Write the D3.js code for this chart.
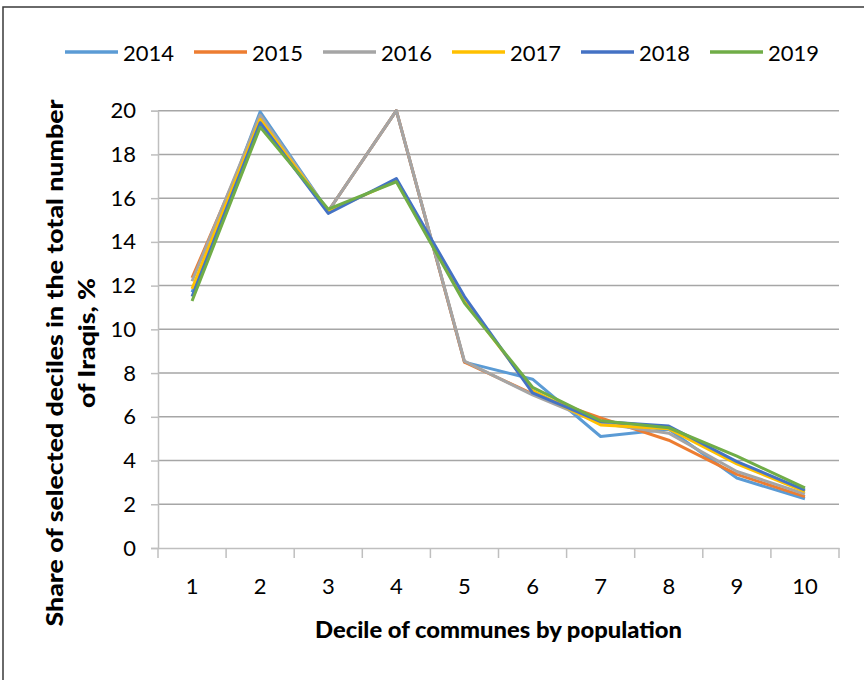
<html lang="en">
<head>
<style>
	body { margin: 0; background: #fff; }
	text { font-family: Lato, "Open Sans", sans-serif; fill: #000; }
	.grid line { stroke: #a6a6a6; stroke-width: 1.5; }
	.series { fill: none; stroke-width: 3; stroke-linejoin: round; }
</style>
</head>
<body>
<svg width="864" height="680"></svg>
<script src="https://d3js.org/d3.v7.min.js"></script>
<script>
	// data
	var deciles = [1, 2, 3, 4, 5, 6, 7, 8, 9, 10];
	var years = ["2014", "2015", "2016", "2017", "2018", "2019"];
	var colors = ["#5b9bd5", "#ed7d31", "#a5a5a5", "#ffc000", "#4472c4", "#70ad47"];
	var s2014 = [11.7, 19.95, 15.4, 20.0, 8.5, 7.72, 5.1, 5.43, 3.2, 2.25];
	var s2015 = [12.35, 19.6, 15.4, 20.0, 8.5, 7.05, 5.95, 4.93, 3.37, 2.35];
	var s2016 = [12.2, 19.8, 15.4, 20.0, 8.55, 7.0, 5.7, 5.25, 3.5, 2.47];
	var s2017 = [11.85, 19.6, 15.4, 16.8, 11.3, 7.2, 5.63, 5.45, 3.85, 2.58];
	var s2018 = [11.5, 19.45, 15.3, 16.9, 11.5, 7.1, 5.78, 5.58, 3.95, 2.65];
	var s2019 = [11.3, 19.25, 15.5, 16.75, 11.2, 7.35, 5.82, 5.5, 4.2, 2.75];
	var series = [s2014, s2015, s2016, s2017, s2018, s2019];
	var yTicks = [0, 2, 4, 6, 8, 10, 12, 14, 16, 18, 20];

	var svg = d3.select("svg");

	// chart frame
	svg.append("rect")
		.attr("x", 3).attr("y", 7)
		.attr("width", 900).attr("height", 700)
		.attr("fill", "none")
		.attr("stroke", "#3a3a3a")
		.attr("stroke-width", 1.5);

	var plotLeft = 158, plotRight = 839, plotTop = 110.7, plotBottom = 548;

	var x = d3.scaleBand().domain(deciles).range([plotLeft, plotRight]).padding(0);
	var y = d3.scaleLinear().domain([0, 20]).range([plotBottom, plotTop]);

	// horizontal gridlines
	svg.append("g")
		.attr("class", "grid")
		.selectAll("line")
		.data(yTicks.filter(function(d) { return d > 0; }))
		.enter().append("line")
		.attr("x1", plotLeft).attr("x2", plotRight)
		.attr("y1", function(d) { return y(d); })
		.attr("y2", function(d) { return y(d); });

	// y axis
	var gy = svg.append("g")
		.attr("transform", "translate(" + plotLeft + ",0)")
		.call(d3.axisLeft(y).tickValues(yTicks).tickSize(7).tickPadding(15));
	gy.select(".domain").attr("stroke", "#bfbfbf").attr("stroke-width", 1.5);
	gy.selectAll(".tick line").attr("stroke", "#bfbfbf").attr("stroke-width", 1.5);
	gy.selectAll(".tick text").attr("font-size", "22px").attr("fill", "#000")
		.attr("font-family", "Lato, sans-serif");

	// x axis, ticks between categories
	var gx = svg.append("g")
		.attr("transform", "translate(0," + plotBottom + ")")
		.call(d3.axisBottom(x).tickSize(0).tickPadding(30));
	gx.select(".domain").attr("stroke", "#bfbfbf").attr("stroke-width", 1.5);
	gx.selectAll(".tick text").attr("font-size", "22px").attr("fill", "#000")
		.attr("font-family", "Lato, sans-serif");
	gx.selectAll(".sep")
		.data(deciles.concat([11]))
		.enter().append("line")
		.attr("class", "sep")
		.attr("x1", function(d) { return d == 11 ? plotRight : x(d); })
		.attr("x2", function(d) { return d == 11 ? plotRight : x(d); })
		.attr("y1", 0).attr("y2", 10)
		.attr("stroke", "#bfbfbf").attr("stroke-width", 1.5);

	// lines
	var line = d3.line()
		.x(function(d, i) { return x(deciles[i]) + x.bandwidth() / 2; })
		.y(function(d) { return y(d); });

	svg.selectAll(".series")
		.data(series)
		.enter().append("path")
		.attr("class", "series")
		.attr("stroke", function(d, i) { return colors[i]; })
		.attr("d", line);

	// legend
	var leg = svg.append("g");
	years.forEach(function(yr, i) {
		var lx = 65 + i * 129;
		leg.append("line")
			.attr("x1", lx).attr("x2", lx + 53)
			.attr("y1", 52).attr("y2", 52)
			.attr("stroke", colors[i]).attr("stroke-width", 3.5);
		leg.append("text")
			.attr("x", lx + 58).attr("y", 61)
			.attr("font-size", "22px")
			.attr("textLength", 51)
			.attr("lengthAdjust", "spacingAndGlyphs")
			.text(yr);
	});

	// axis titles
	svg.append("text")
		.attr("x", (plotLeft + plotRight) / 2).attr("y", 638)
		.attr("text-anchor", "middle")
		.attr("font-size", "22px").attr("font-weight", "900")
		.attr("textLength", 367)
		.attr("lengthAdjust", "spacingAndGlyphs")
		.text("Decile of communes by population");

	svg.append("text")
		.attr("transform", "translate(63,363) rotate(-90)")
		.attr("text-anchor", "middle")
		.attr("font-size", "22px").attr("font-weight", "900")
		.attr("textLength", 527)
		.attr("lengthAdjust", "spacingAndGlyphs")
		.text("Share of selected deciles in the total number");

	svg.append("text")
		.attr("transform", "translate(95,343) rotate(-90)")
		.attr("text-anchor", "middle")
		.attr("font-size", "22px").attr("font-weight", "900")
		.attr("textLength", 130)
		.attr("lengthAdjust", "spacingAndGlyphs")
		.text("of Iraqis,  %");
</script>
</body>
</html>
